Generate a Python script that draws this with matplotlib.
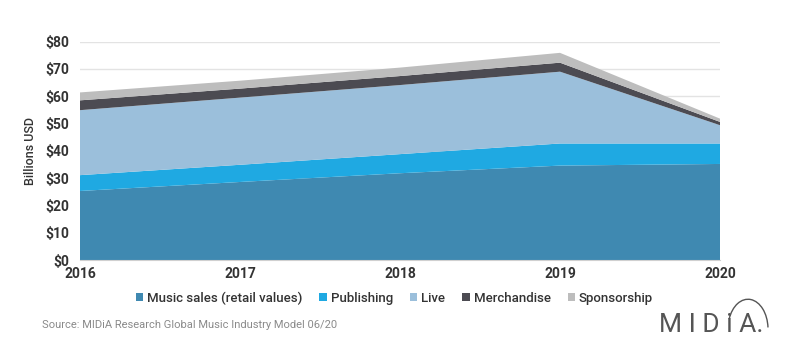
import matplotlib
matplotlib.use("Agg")
import matplotlib.pyplot as plt
from matplotlib.patches import Patch, Arc

plt.rcParams['font.family'] = ['Roboto', 'DejaVu Sans']

years = [2016, 2017, 2018, 2019, 2020]
music_sales = [25.3, 28.6, 31.8, 34.6, 35.2]
publishing = [5.8, 6.3, 7.0, 8.1, 7.5]
live = [23.8, 24.6, 25.3, 26.3, 6.7]
merchandise = [3.6, 3.3, 3.3, 3.3, 1.2]
sponsorship = [2.9, 2.9, 3.1, 3.6, 1.2]

labels = ["Music sales (retail values)", "Publishing", "Live", "Merchandise", "Sponsorship"]
colors = ["#3f89b1", "#1fa9e2", "#9bbfdb", "#4c4b52", "#bdbdbd"]

fig = plt.figure(figsize=(8, 3.5), dpi=100)
ax = fig.add_axes([0.1, 0.257, 0.8, 0.624])

ax.stackplot(years, music_sales, publishing, live, merchandise, sponsorship,
             colors=colors, linewidth=0, zorder=2)

ax.set_xlim(2016, 2020)
ax.set_ylim(0, 80)
ax.set_yticks(range(0, 81, 10))
ax.set_yticklabels(["$%d" % v for v in range(0, 81, 10)])
ax.set_xticks(years)
ax.yaxis.grid(True, color="#e3e3e3", linewidth=1, zorder=0)
ax.set_axisbelow(True)
for s in ["left", "right", "top"]:
    ax.spines[s].set_visible(False)
ax.spines["bottom"].set_color("#d0d0d0")
ax.tick_params(axis="both", length=0, labelsize=10, labelcolor="#333333")
ax.tick_params(axis="y", pad=8)
ax.tick_params(axis="x", pad=5)
for t in ax.get_xticklabels() + ax.get_yticklabels():
    t.set_fontweight("bold")
ax.set_ylabel("Billions USD", fontsize=9, color="#333333", labelpad=6,
              fontweight="medium")

handles = [Patch(facecolor=c, label=l) for c, l in zip(colors, labels)]
leg = fig.legend(handles=handles, loc="center", bbox_to_anchor=(0.493, 0.148), ncol=5,
                 frameon=False, fontsize=9.5, handlelength=0.55, handleheight=0.55,
                 handletextpad=0.3, columnspacing=1.3, labelcolor="#333333")
for t in leg.get_texts():
    t.set_fontweight("medium")

fig.text(0.053, 0.07, "Source: MIDiA Research Global Music Industry Model 06/20",
         fontsize=8, color="#8a8a8a", va="center")
# logo
logo = fig.text(0.824, 0.07, "M I D i A.", fontsize=19, color="#555555", va="center")
fig.add_artist(Arc((0.935, 0.06), 0.05, 0.17, theta1=10, theta2=130,
                   transform=fig.transFigure, color="#555555", linewidth=1))

fig.savefig("out.png", dpi=100)
